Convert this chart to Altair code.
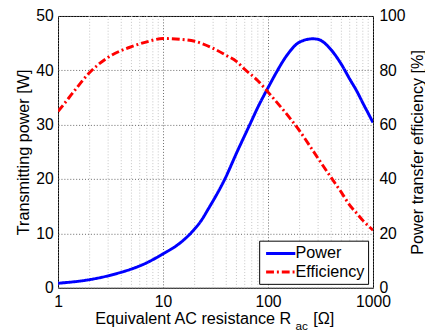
import altair as alt
import pandas as pd

# ---- data ----
r_power = [1, 2, 3, 4, 5, 7, 10, 14, 18.7, 23, 27, 38.8, 51, 67, 80, 100, 120, 140, 160, 200, 267, 300, 400, 500, 600, 700, 800, 900, 1000]
power = [0.83, 1.5, 2.2, 2.86, 3.45, 4.6, 6.25, 8.0, 10.2, 12.3, 14.5, 20.0, 25.1, 30.0, 33.2, 36.8, 39.6, 41.8, 43.4, 45.2, 45.8, 45.7, 43.75, 41.1, 38.4, 36.2, 34.0, 32.1, 30.4]

r_eff = [1, 1.14, 1.4, 2, 3, 4, 5, 7, 10, 14.6, 20, 30, 40, 50, 60, 80, 100, 200, 300, 400, 500, 600, 700, 800, 1000]
eff = [64.9, 67.6, 72.0, 79.2, 84.8, 87.3, 88.7, 90.5, 91.7, 91.4, 90.7, 88.1, 85.5, 83.3, 80.4, 76.2, 72.0, 57.7, 47.6, 40.5, 35.1, 30.4, 27.4, 24.8, 21.2]

x_major = [1, 10, 100, 1000]
x_minor = [2, 3, 4, 5, 6, 7, 8, 9, 20, 30, 40, 50, 60, 70, 80, 90, 200, 300, 400, 500, 600, 700, 800, 900]
y_left_ticks = [0, 10, 20, 30, 40, 50]
y_right_ticks = [0, 20, 40, 60, 80, 100]
series = ["Power", "Efficiency"]
colors = ["#0000ff", "#ff0000"]
dashes = [[1, 0], [8, 3, 2, 3]]

x_title_main = "Equivalent AC resistance R"
x_title_sub = "ac"
x_title_unit = "[Ω]"
y_left_title = "Transmitting power [W]"
y_right_title = "Power transfer efficiency [%]"

FONT = "Liberation Sans"

df_p = pd.DataFrame({"R": r_power, "value": power, "series": series[0]})
df_e = pd.DataFrame({"R": r_eff, "value": eff, "series": series[1]})
df_minor = pd.DataFrame({"R": x_minor})

xscale = alt.Scale(type="log", domain=[1, 1000], nice=False)
xaxis = alt.Axis(values=x_major, format="d", title=None, grid=True,
                 gridDash=[1, 2], gridColor="#666", labelPadding=6,
                 labelFlush=False, labelOverlap=False)

legend = alt.Legend(title=None, orient="none", legendX=205, legendY=229,
                    symbolType="M-0.7,0H2.8", symbolSize=289, symbolStrokeWidth=3,
                    labelFontSize=16.5, labelFont=FONT, labelOffset=14,
                    fillColor="white", strokeColor="black", padding=3,
                    rowPadding=0)
color = alt.Color("series:N", scale=alt.Scale(domain=series, range=colors), legend=legend)
sdash = alt.StrokeDash("series:N", scale=alt.Scale(domain=series, range=dashes), legend=legend)

minor = alt.Chart(df_minor).mark_rule(color="#c4c4c4", strokeDash=[1, 2], strokeWidth=1).encode(
    x=alt.X("R:Q", scale=xscale, axis=xaxis)
)

p_line = alt.Chart(df_p).mark_line(strokeWidth=3, interpolate="monotone", clip=True).encode(
    x=alt.X("R:Q", scale=xscale, axis=xaxis),
    y=alt.Y("value:Q", scale=alt.Scale(domain=[0, 50], nice=False),
            axis=alt.Axis(orient="left", values=y_left_ticks, title=y_left_title,
                          grid=True, gridDash=[1, 2], gridColor="#666",
                          labelPadding=5, titlePadding=4)),
    color=color, strokeDash=sdash,
)

e_line = alt.Chart(df_e).mark_line(strokeWidth=3, interpolate="monotone", clip=True).encode(
    x=alt.X("R:Q", scale=xscale, axis=xaxis),
    y=alt.Y("value:Q", scale=alt.Scale(domain=[0, 100], nice=False),
            axis=alt.Axis(orient="right", values=y_right_ticks, title=y_right_title,
                          grid=False, labelPadding=6, titlePadding=5,
                          titleAngle=270, titleBaseline="top")),
    color=color, strokeDash=sdash,
)

t_main = alt.Chart(pd.DataFrame({"t": [x_title_main]})).mark_text(
    align="left", baseline="alphabetic", fontSize=16.5, font=FONT, color="black"
).encode(x=alt.value(38), y=alt.value(313.7), text="t:N")
t_sub = alt.Chart(pd.DataFrame({"t": [x_title_sub]})).mark_text(
    align="left", baseline="alphabetic", fontSize=12, font=FONT, color="black"
).encode(x=alt.value(242), y=alt.value(320.3), text="t:N")
t_unit = alt.Chart(pd.DataFrame({"t": [x_title_unit]})).mark_text(
    align="left", baseline="alphabetic", fontSize=16.5, font=FONT, color="black"
).encode(x=alt.value(260), y=alt.value(313.7), text="t:N")

chart = alt.layer(minor, p_line, e_line, t_main, t_sub, t_unit).resolve_scale(
    y="independent"
).properties(
    width=321, height=277,
    padding={"left": 51, "top": 5, "right": 53, "bottom": 46},
    autosize=alt.AutoSizeParams(type="none"),
    background="white",
).configure_view(
    stroke="black", strokeWidth=1
).configure_axis(
    labelFont=FONT, labelFontSize=16, labelColor="black",
    titleFont=FONT, titleFontSize=16.5, titleColor="black", titleFontWeight="normal",
    domain=False, ticks=False,
)

chart.save("out.html", embed_options={"renderer": "svg", "actions": False})
